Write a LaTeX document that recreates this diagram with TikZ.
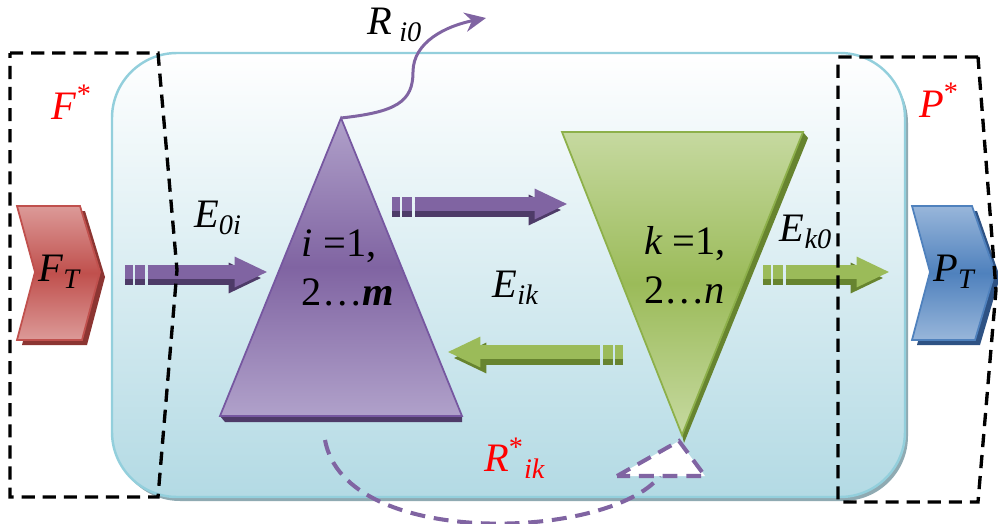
\documentclass[tikz,border=0pt]{standalone}
\usepackage{fontspec}
\setmainfont{Liberation Serif}
\usepackage{xcolor}
\usepackage{tikz}
\usetikzlibrary{arrows.meta, positioning}

\definecolor{boxblue}{HTML}{B3DAE4}
\definecolor{boxedge}{HTML}{93CFDC}
\definecolor{boxshadow}{HTML}{8FAAB2}
\definecolor{purp}{HTML}{8064A2}
\definecolor{purplight}{HTML}{B0A1CA}
\definecolor{purpdark}{HTML}{4E3B68}
\definecolor{purpedge}{HTML}{7657A0}
\definecolor{grn}{HTML}{9BBB59}
\definecolor{grnlight}{HTML}{C6D9A0}
\definecolor{grndark}{HTML}{67842F}
\definecolor{grnedge}{HTML}{8DB04A}
\definecolor{redc}{HTML}{C0504D}
\definecolor{redlight}{HTML}{DC9A98}
\definecolor{reddark}{HTML}{8C3532}
\definecolor{bluec}{HTML}{4F81BD}
\definecolor{bluelight}{HTML}{98B6DA}
\definecolor{bluedark}{HTML}{2E5284}

\begin{document}
\begin{tikzpicture}[
    x=0.02cm, y=-0.02cm,
    lbl/.style={font=\fontsize{23}{28}\selectfont, inner sep=0pt},
    star_lbl/.style={lbl, text=red},
    region/.style={draw=boxedge, line width=1.4pt, rounded corners=1.3cm, top color=white, bottom color=boxblue},
    cutline/.style={draw=black, line width=1.9pt, dash pattern=on 7.5pt off 4.5pt},
    flow_arrow/.style={line width=8.5pt, -{Triangle[length=19pt, width=16pt]},
        dash pattern=on 4.5pt off 1.2pt on 5.5pt off 1.7pt on 300pt off 0pt},
    chevron/.style={line width=1pt},
    loss_path/.style={draw=purp, line width=1.7pt, -{Stealth[length=12pt, width=11pt]}},
    recycle_path/.style={draw=purp, line width=2.3pt, dash pattern=on 8.5pt off 5pt}
]
\useasboundingbox (0,0) rectangle (998,524);

% System boundary
\fill[boxshadow, rounded corners=1.3cm] (115,58) rectangle (908,501);
\shade[region] (112,53) rectangle (905,497);

% Points
\coordinate (apex_i) at (341,118);
\coordinate (base_il) at (220,416);
\coordinate (base_ir) at (462,416);
\coordinate (top_kl) at (562,132);
\coordinate (top_kr) at (803,132);
\coordinate (apex_k) at (682,435);
\coordinate (eoi_tail) at (125,272);
\coordinate (eoi_tip) at (268,272);
\coordinate (eik_tail) at (392,204);
\coordinate (eik_tip) at (568,204);
\coordinate (eki_tail) at (623,352);
\coordinate (eki_tip) at (447,352);
\coordinate (eko_tail) at (763,272);
\coordinate (eko_tip) at (890,272);
\coordinate (bend_r) at (413,72);
\coordinate (rio_end) at (486,18);
\coordinate (cyc_start) at (325,440);
\coordinate (cyc_end) at (660,476);

% Sources and products
\fill[reddark] (22,211) -- (85,211) -- (105,277) -- (87,345) -- (22,345) -- (40,277) -- cycle;
\shade[chevron, draw=redc, top color=redlight, bottom color=redlight, middle color=redc]
    (17,206) -- (80,206) -- (100,272) -- (82,340) -- (17,340) -- (35,272) -- cycle;
\fill[bluedark] (917,211) -- (977,211) -- (1000,277) -- (980,345) -- (917,345) -- (935,277) -- cycle;
\shade[chevron, draw=bluec, top color=bluelight, bottom color=bluelight, middle color=bluec]
    (912,206) -- (972,206) -- (995,272) -- (975,340) -- (912,340) -- (930,272) -- cycle;

% Stages
\fill[purpdark] ([shift={(5,6)}]base_il) -- ([shift={(0,6)}]base_ir) -- (base_ir) -- (base_il) -- cycle;
\shade[draw=purpedge, line width=1pt, top color=purplight, bottom color=purplight, middle color=purp]
    (apex_i) -- (base_ir) -- (base_il) -- cycle;
\fill[grndark] (top_kr) -- ([shift={(5,6)}]top_kr) -- ([shift={(2,8)}]apex_k) -- (apex_k) -- cycle;
\shade[draw=grnedge, line width=1pt, top color=grnlight, bottom color=grnlight, middle color=grn]
    (top_kl) -- (top_kr) -- (apex_k) -- cycle;

% Flows
\draw[flow_arrow, draw=purpdark] ([shift={(0,6)}]eoi_tail) -- ([shift={(-6,6)}]eoi_tip);
\draw[flow_arrow, draw=purp] (eoi_tail) -- (eoi_tip);
\draw[flow_arrow, draw=purpdark] ([shift={(0,6)}]eik_tail) -- ([shift={(-6,6)}]eik_tip);
\draw[flow_arrow, draw=purp] (eik_tail) -- (eik_tip);
\draw[flow_arrow, draw=grndark] ([shift={(0,6)}]eki_tail) -- ([shift={(6,6)}]eki_tip);
\draw[flow_arrow, draw=grn] (eki_tail) -- (eki_tip);
\draw[flow_arrow, draw=grndark] ([shift={(0,6)}]eko_tail) -- ([shift={(-6,6)}]eko_tip);
\draw[flow_arrow, draw=grn] (eko_tail) -- (eko_tip);

% Loss and recycling
\draw[loss_path] (apex_i) .. controls +(55,-6) and +(0,30) .. (bend_r)
    .. controls +(0,-30) and +(-40,8) .. (rio_end);
\draw[recycle_path] (cyc_start) .. controls (345,550) and (610,540) .. (cyc_end);
\draw[recycle_path, fill=white] (617,476) -- (679,441) -- (705,476) -- cycle;

% Boundaries F* and P*
\draw[cutline] (10,53) -- (158,53) -- (177,270) -- (158,497) -- (10,497) -- cycle;
\draw[cutline] (978,57) -- (838,57) -- (838,502) -- (978,502) -- (996,290) -- cycle;

% Labels
\node[lbl] (FT) at (60,272) {\textit{F}\textsubscript{\textit{T}}};
\node[lbl] (PT) at (955,272) {\textit{P}\textsubscript{\textit{T}}};
\node[star_lbl] (Fstar) at (72,102) {\textit{F}\textsuperscript{*}};
\node[star_lbl] (Pstar) at (939,100) {\textit{P}\textsuperscript{*}};
\node[lbl] (Eoi) at (218,218) {\textit{E}\textsubscript{\textit{0i}}};
\node[lbl] (Eik) at (516,288) {\textit{E}\textsubscript{\textit{ik}}};
\node[lbl] (Eko) at (806,232) {\textit{E}\textsubscript{\textit{k0}}};
\node[lbl] (Rio) at (395,25) {\textit{R}\,\textsubscript{\textit{i0}}};
\node[star_lbl] (Rik) at (515,458) {\textit{R}\textsuperscript{*}\textsubscript{\textit{ik}}};
\node[lbl, align=left] (units_i) at (348,268) {\textit{i} =1,\\2…\textbf{\textit{m}}};
\node[lbl, align=left] (units_k) at (685,265) {\textit{k} =1,\\2…\textit{n}};

\end{tikzpicture}
\end{document}
